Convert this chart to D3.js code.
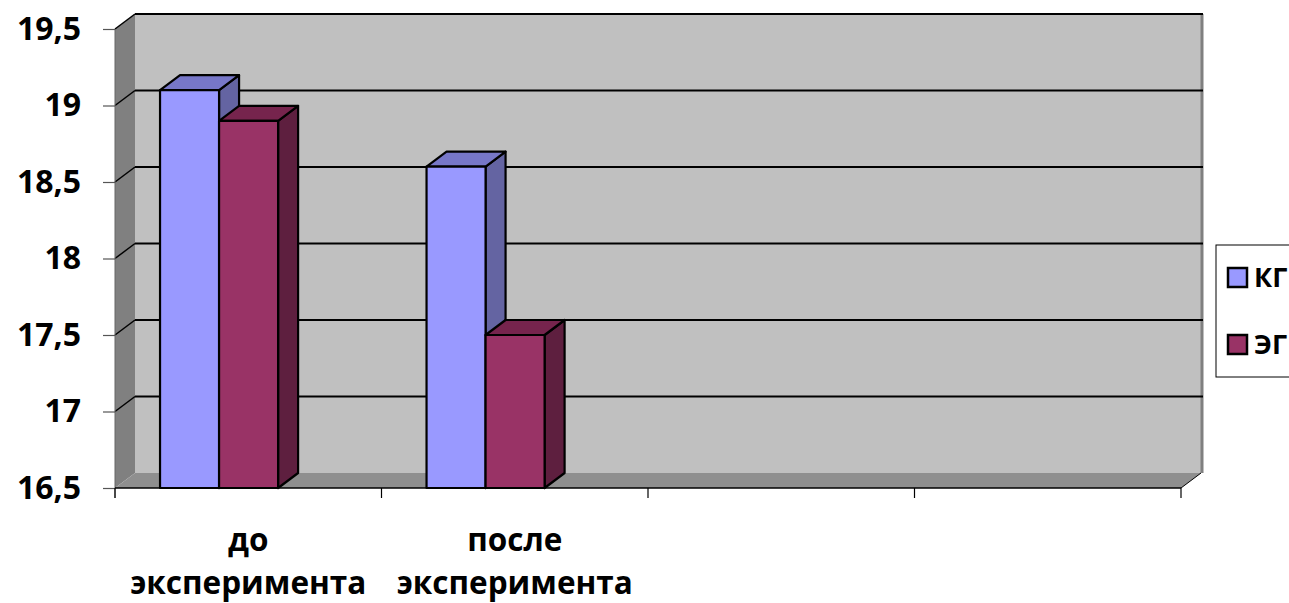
<!DOCTYPE html>
<html>
<head>
<meta charset="utf-8">
<script src="https://cdn.jsdelivr.net/npm/d3@7"></script>
<style>
  html, body { margin: 0; padding: 0; background: #fff; }
  svg { display: block; }
  text { font-family: "Open Sans", "DejaVu Sans", sans-serif; font-weight: bold; fill: #000; }
</style>
</head>
<body>
<svg id="chart" width="1289" height="603"></svg>
<script>
// Categories along the x axis (two empty slots keep the floor wide)
const categories = ["до эксперимента", "после эксперимента", "", ""];
// Series values
const seriesNames = ["КГ", "ЭГ"];
const kgValues = [19.1, 18.6, null, null];
const egValues = [18.9, 17.5, null, null];
// Value axis ticks
const yTicks = [16.5, 17, 17.5, 18, 18.5, 19, 19.5];

const series = [
  { name: seriesNames[0], values: kgValues, front: "#9999FF", topFill: "#7777C8", side: "#6464A2" },
  { name: seriesNames[1], values: egValues, front: "#993366", topFill: "#76244D", side: "#5E1F3F" }
];

const svg = d3.select("#chart");

// plot frame (front plane) and 3D depth offset
const plotLeft = 115, plotRight = 1181, plotBottom = 488, plotTop = 29;
const dx = 20, dy = -15;

const x = d3.scaleBand().domain(d3.range(categories.length)).range([plotLeft, plotRight]).paddingInner(0).paddingOuter(0);
const y = d3.scaleLinear().domain([16.5, 19.5]).range([plotBottom, plotTop]);

// inner placement of the cluster within each category band
const clusterOffset = x.bandwidth() * 0.169;
const barW = x.bandwidth() * 0.2215;

// side wall (left)
svg.append("polygon")
  .attr("points", [[plotLeft, plotTop], [plotLeft + dx, plotTop + dy], [plotLeft + dx, plotBottom + dy], [plotLeft, plotBottom]].join(" "))
  .attr("fill", "#808080");

// floor
svg.append("polygon")
  .attr("points", [[plotLeft, plotBottom], [plotLeft + dx, plotBottom + dy], [plotRight + dx, plotBottom + dy], [plotRight, plotBottom]].join(" "))
  .attr("fill", "#8f8f8f");

// back wall
svg.append("rect")
  .attr("x", plotLeft + dx).attr("y", plotTop + dy)
  .attr("width", plotRight - plotLeft).attr("height", plotBottom - plotTop)
  .attr("fill", "#c0c0c0");

// back wall right edge
svg.append("line")
  .attr("x1", plotRight + dx + 1).attr("x2", plotRight + dx + 1)
  .attr("y1", plotTop + dy).attr("y2", plotBottom + dy)
  .attr("stroke", "#808080").attr("stroke-width", 3);

// gridlines: diagonal on the side wall + horizontal on the back wall
const grid = svg.append("g");
yTicks.forEach(t => {
  const yy = y(t);
  if (t > 16.5) {
    grid.append("line")
      .attr("x1", plotLeft).attr("y1", yy).attr("x2", plotLeft + dx).attr("y2", yy + dy)
      .attr("stroke", "#000").attr("stroke-width", 1.5);
    grid.append("line")
      .attr("x1", plotLeft + dx).attr("y1", yy + dy).attr("x2", plotRight + dx + 2).attr("y2", yy + dy)
      .attr("stroke", "#000").attr("stroke-width", 2);
  }
});

// floor right edge
svg.append("line")
  .attr("x1", plotRight).attr("y1", plotBottom).attr("x2", plotRight + dx).attr("y2", plotBottom + dy)
  .attr("stroke", "#000").attr("stroke-width", 1);

// value axis
const yAxis = d3.axisLeft(y).tickValues(yTicks).tickSize(12).tickPadding(22)
  .tickFormat(d => String(d).replace(".", ","));
const gy = svg.append("g").attr("transform", `translate(${plotLeft},0)`).call(yAxis);
gy.select(".domain").attr("stroke", "#666").attr("d", `M0,${plotTop}V${plotBottom + 10}`);
gy.selectAll(".tick line").attr("stroke", "#555").attr("stroke-width", 1.2);
gy.selectAll(".tick text").attr("font-size", 32).attr("font-family", "'Open Sans', sans-serif")
  .attr("font-weight", "bold").attr("fill", "#000");

// category axis
const xAxisLine = svg.append("g");
xAxisLine.append("line")
  .attr("x1", plotLeft).attr("x2", plotRight).attr("y1", plotBottom).attr("y2", plotBottom)
  .attr("stroke", "#000").attr("stroke-width", 1.5);
const boundaries = categories.map((c, i) => x(i)).concat([plotRight]);
boundaries.forEach(bx => {
  xAxisLine.append("line")
    .attr("x1", bx).attr("x2", bx).attr("y1", plotBottom).attr("y2", plotBottom + 10)
    .attr("stroke", "#000").attr("stroke-width", 1.2);
});

// category labels (two lines)
categories.forEach((c, i) => {
  if (!c) return;
  const cx = x(i) + x.bandwidth() / 2;
  const words = c.split(" ");
  const t = svg.append("text").attr("text-anchor", "middle").attr("font-size", 31.5);
  words.forEach((w, k) => {
    t.append("tspan").attr("x", cx).attr("y", 551 + k * 43).text(w);
  });
});

// 3D bars
const bars = svg.append("g");
categories.forEach((c, i) => {
  series.forEach((s, j) => {
    const v = s.values[i];
    if (v == null) return;
    const x0 = x(i) + clusterOffset + j * barW;
    const x1 = x0 + barW;
    const yt = y(v);
    const yb = y(16.5);
    const g = bars.append("g").attr("stroke", "#000").attr("stroke-width", 2.2).attr("stroke-linejoin", "round");
    // side face
    g.append("polygon")
      .attr("points", [[x1, yt], [x1 + dx, yt + dy], [x1 + dx, yb + dy], [x1, yb]].join(" "))
      .attr("fill", s.side);
    // top face
    g.append("polygon")
      .attr("points", [[x0, yt], [x0 + dx, yt + dy], [x1 + dx, yt + dy], [x1, yt]].join(" "))
      .attr("fill", s.topFill);
    // front face
    g.append("rect")
      .attr("x", x0).attr("y", yt).attr("width", barW).attr("height", yb - yt)
      .attr("fill", s.front);
  });
});

// legend
const legend = svg.append("g");
legend.append("rect")
  .attr("x", 1216).attr("y", 245).attr("width", 120).attr("height", 132)
  .attr("fill", "#fff").attr("stroke", "#000").attr("stroke-width", 1);
series.forEach((s, j) => {
  const ly = 268 + j * 67;
  legend.append("rect")
    .attr("x", 1228).attr("y", ly).attr("width", 19).attr("height", 19)
    .attr("fill", s.front).attr("stroke", "#000").attr("stroke-width", 2.5);
  legend.append("text")
    .attr("x", 1254).attr("y", ly + 19).attr("font-size", 27).text(s.name);
});
</script>
</body>
</html>
